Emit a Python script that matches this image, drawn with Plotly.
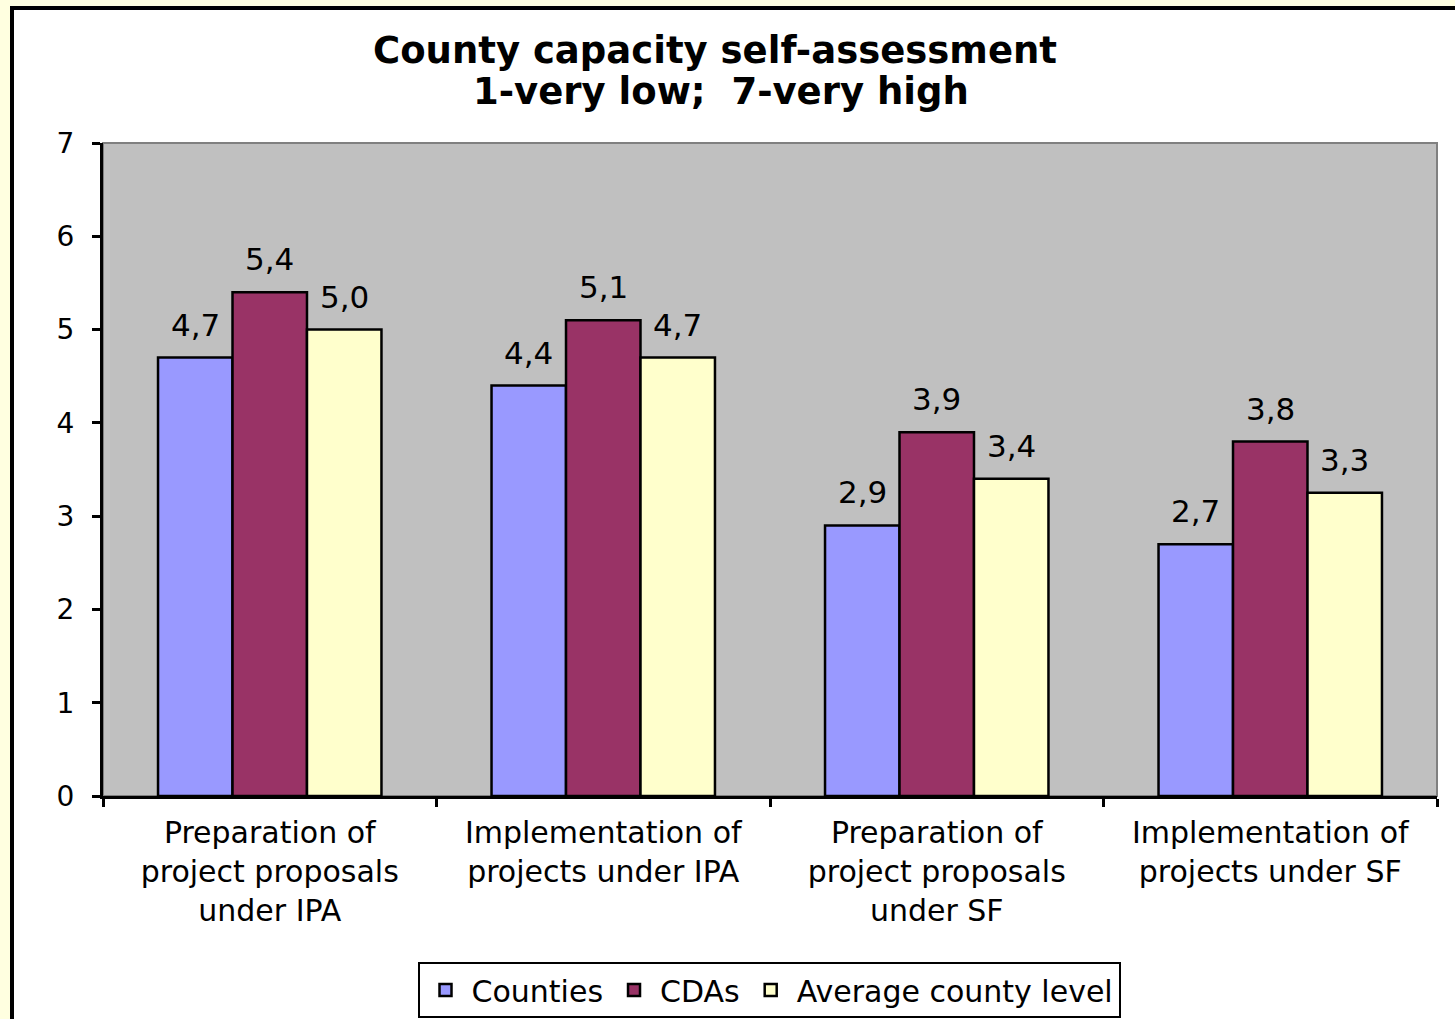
import plotly.graph_objects as go

categories = [
    "Preparation of<br>project proposals<br>under IPA",
    "Implementation of<br>projects under IPA",
    "Preparation of<br>project proposals<br>under SF",
    "Implementation of<br>projects under SF",
]
series_names = ["Counties", "CDAs", "Average county level"]
counties = [4.7, 4.4, 2.9, 2.7]
cdas = [5.4, 5.1, 3.9, 3.8]
average = [5.0, 4.7, 3.4, 3.25]
counties_labels = ["4,7", "4,4", "2,9", "2,7"]
cdas_labels = ["5,4", "5,1", "3,9", "3,8"]
average_labels = ["5,0", "4,7", "3,4", "3,3"]
title_lines = ["County capacity self-assessment", "1-very low;  7-very high"]
colors = ["#9999FF", "#993366", "#FFFFCC"]
y_ticks = [0, 1, 2, 3, 4, 5, 6, 7]

W, H = 1455, 1019
L, R, T, B = 103, 18, 143, 223
pw, ph = W - L - R, H - T - B

def px_x(p):
    return (p - L) / pw

def px_y(p):
    return (H - B - p) / ph

FONT = "DejaVu Sans"
FS = 30
BARGAP = 0.33

fig = go.Figure()
annotations = []
series = [counties, cdas, average]
labels = [counties_labels, cdas_labels, average_labels]
n = len(series)
bw = (1 - BARGAP) / n
for k, (name, vals, labs, col) in enumerate(zip(series_names, series, labels, colors)):
    fig.add_trace(go.Bar(
        name=name, x=categories, y=vals,
        marker=dict(color=col, line=dict(color="black", width=2.5)),
    ))
    off = (k - (n - 1) / 2) * bw
    for i, (v, lab) in enumerate(zip(vals, labs)):
        annotations.append(dict(
            text=lab, x=i + off, y=v, xref="x", yref="y",
            xanchor="center", yanchor="bottom", yshift=13, showarrow=False,
            font=dict(family=FONT, size=31, color="black"),
        ))

annotations += [
    dict(text="<b>%s</b>" % title_lines[0], xref="paper", yref="paper",
         x=px_x(715), y=px_y(51), xanchor="center", yanchor="middle",
         showarrow=False, font=dict(family=FONT, size=37, color="black")),
    dict(text="<b>%s</b>" % title_lines[1], xref="paper", yref="paper",
         x=px_x(721), y=px_y(92), xanchor="center", yanchor="middle",
         showarrow=False, font=dict(family=FONT, size=37, color="black")),
]

fig.update_layout(
    width=W, height=H,
    margin=dict(l=L, r=R, t=T, b=B, autoexpand=False),
    paper_bgcolor="#FFFFE0",
    plot_bgcolor="rgba(0,0,0,0)",
    barmode="group", bargap=BARGAP, bargroupgap=0,
    font=dict(family=FONT, size=FS, color="black"),
    showlegend=True,
    legend=dict(
        orientation="h", x=px_x(769), xanchor="center", y=px_y(962), yanchor="top",
        bgcolor="white", bordercolor="black", borderwidth=2,
        font=dict(family=FONT, size=30, color="black"),
        traceorder="normal", itemwidth=42,
    ),
    annotations=annotations,
    shapes=[
        dict(type="rect", xref="paper", yref="paper", layer="below",
             x0=px_x(12), x1=px_x(1500), y0=px_y(1100), y1=px_y(8),
             fillcolor="white", line=dict(color="black", width=4)),
        dict(type="rect", xref="paper", yref="paper", layer="below",
             x0=0, x1=1, y0=0, y1=1,
             fillcolor="#C0C0C0", line=dict(color="#808080", width=2)),
    ],
)

fig.update_xaxes(
    showline=True, linecolor="black", linewidth=3,
    ticks="outside", tickson="boundaries", ticklen=8, tickwidth=3, tickcolor="black",
    tickfont=dict(family=FONT, size=FS, color="black"), ticklabelstandoff=8,
    showgrid=False, mirror=False,
)
fig.update_yaxes(
    range=[0, 7], tickvals=y_ticks, showline=True, linecolor="black", linewidth=3,
    ticks="outside", ticklen=8, tickwidth=3, tickcolor="black",
    tickfont=dict(family=FONT, size=28, color="black"), ticklabelstandoff=12,
    showgrid=False, zeroline=False,
)

fig.write_html(
    "out.html",
    config={"displayModeBar": False},
    post_script="document.body.style.margin='0';document.body.style.background='#FFFFE0';",
)
